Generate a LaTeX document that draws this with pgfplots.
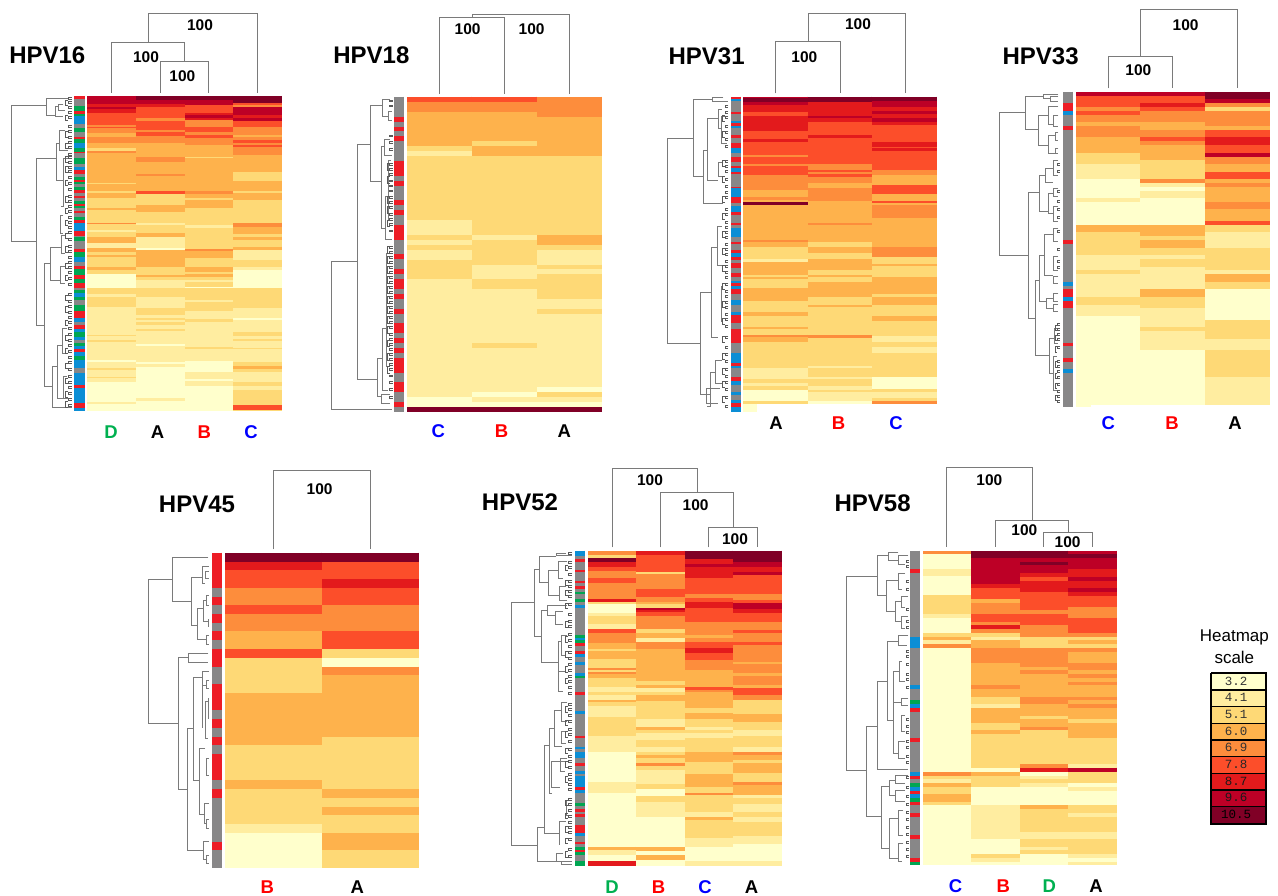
\documentclass[border=0pt]{standalone}
\usepackage{pgfplots}
\pgfplotsset{compat=1.18}
\usepackage{fontspec}
\setmainfont{Liberation Sans}
\newfontfamily\lm{Liberation Mono}
\definecolor{dgc}{HTML}{7A7A7A}
\pgfplotsset{
 dg/.style={color=dgc,line width=0.8pt,no markers,line join=miter},
 hm/.style={mesh,shader=flat corner,point meta=explicit,no markers,line cap=butt},
 colormap={hm}{rgb255=(255,255,204) rgb255=(255,237,160) rgb255=(254,217,118) rgb255=(254,178,76) rgb255=(253,141,60) rgb255=(252,78,42) rgb255=(227,26,28) rgb255=(189,0,38) rgb255=(128,0,38) rgb255=(136,136,136) rgb255=(238,28,37) rgb255=(10,143,214) rgb255=(0,166,81)}
}
\newcommand\setoff[2]{\def\ox{#1}\def\oy{#2}}
\newcommand\hcolB[3]{\addplot[hm,line width=#1pt] table[row sep=\\,x expr=#2,y expr=\thisrow{y}/3+\oy,meta=v]{y v\\#3\\};}
\newcommand\hcol[3]{\pgfmathsetmacro\lw{(#2-#1)/3}\pgfmathsetmacro\xc{(#1+#2)/6+\ox}\edef\a{\noexpand\hcolB{\lw}{\xc}}\a{#3}}
\newcommand\pl[1]{\addplot[dg] table[row sep=\\,x expr=\thisrow{x}/3+\ox,y expr=\thisrow{y}/3+\oy]{x y\\#1\\};}
\newcommand\br[5]{\pl{#3 #2\\#1 #2\\#1 #4\\#5 #4}}
\newcommand\lf[4]{\pgfplotsinvokeforeach{#4}{\addplot[color=black!65,line width=0.55pt,no markers] table[row sep=\\,x expr=\thisrow{x}/3+\ox,y expr=(\thisrow{y}+\thisrow{d}*#3)/3+\oy]{x y d\\#2 ##1 0\\#1 ##1 0\\#1 ##1 1\\#2 ##1 1\\};}}
\newcommand\txB[4]{\node[inner sep=0pt,#3] at (axis cs:#1,#2) {#4};}
\newcommand\tx[4]{\pgfmathsetmacro\tmx{#1/3+\ox}\pgfmathsetmacro\tmy{#2/3+\oy}\edef\a{\noexpand\txB{\tmx}{\tmy}}\a{#3}{#4}}
\newcommand\ttl[3]{\tx{#1}{#2}{font=\bfseries\fontsize{24}{24}\selectfont}{#3}}
\newcommand\hh[2]{\tx{#1}{#2}{font=\bfseries\fontsize{15.5}{15.5}\selectfont}{100}}
\newcommand\lb[4]{\tx{#1}{#2}{font=\bfseries\fontsize{18.5}{18.5}\selectfont,text=#3}{#4}}
\definecolor{lg}{HTML}{00B050}\definecolor{lr}{HTML}{FF0000}\definecolor{lbl}{HTML}{0000FF}
\begin{document}
\begin{tikzpicture}
\path[use as bounding box] (0,0) rectangle (1278pt,896pt);
\begin{axis}[anchor=south west,at={(0,0)},x=1pt,y=1pt,xmin=0,xmax=1278,ymin=0,ymax=896,y dir=reverse,axis lines=none,clip=false,colormap name=hm,point meta min=1,point meta max=13]
% ---------- HPV16
\setoff{0}{0}
\hcol{262}{408}{288 8\\312 7\\320 8\\327 7\\338 6\\375 5\\380 6\\384 5\\400 4\\410 5\\430 4\\445 3\\452 5\\460 4\\548 3\\552 4\\572 3\\578 4\\595 3\\625 4\\630 3\\668 5\\672 3\\690 2\\695 3\\710 4\\730 2\\745 4\\755 3\\765 4\\770 3\\800 4\\810 3\\823 1\\865 3\\882 2\\892 3\\920 2\\1005 3\\1009 2\\1020 3\\1025 2\\1080 1\\1085 2\\1105 3\\1110 2\\1130 3\\1135 2\\1145 1\\1205 2\\1213 1\\1233 1}
\hcol{408}{554}{288 9\\300 8\\313 7\\320 6\\355 5\\362 6\\390 5\\395 6\\408 5\\430 4\\470 5\\485 4\\523 5\\527 4\\572 6\\582 3\\615 4\\635 3\\668 2\\675 3\\700 4\\710 2\\745 1\\750 4\\800 3\\825 4\\830 3\\840 2\\865 3\\890 2\\925 3\\945 2\\953 3\\960 2\\965 3\\975 2\\987 3\\993 2\\1033 1\\1037 2\\1087 1\\1093 2\\1100 1\\1195 2\\1203 1\\1233 1}
\hcol{554}{700}{288 9\\300 8\\315 6\\338 7\\345 8\\355 7\\360 5\\380 6\\395 5\\405 6\\415 5\\435 4\\470 3\\475 4\\572 5\\582 4\\595 3\\600 4\\625 3\\675 2\\683 3\\747 5\\753 4\\775 3\\800 4\\815 3\\823 4\\830 3\\840 2\\847 3\\860 1\\865 3\\900 2\\905 3\\933 2\\957 3\\965 2\\1040 3\\1047 2\\1083 1\\1117 2\\1137 1\\1143 2\\1157 1\\1233 1}
\hcol{700}{845}{288 9\\308 6\\315 5\\322 8\\345 7\\355 8\\362 6\\380 5\\405 4\\410 5\\420 6\\428 5\\435 6\\442 5\\465 4\\515 3\\543 4\\572 3\\580 4\\600 3\\668 5\\680 4\\703 3\\710 4\\720 3\\740 4\\750 2\\780 3\\800 2\\810 1\\865 3\\925 2\\955 1\\960 2\\995 3\\1007 2\\1017 3\\1022 2\\1043 3\\1047 2\\1085 3\\1097 4\\1107 3\\1115 2\\1145 3\\1157 2\\1170 3\\1215 6\\1230 3\\1233 3}
\hcol{222}{255}{288 11\\298 10\\318 13\\333 11\\342 13\\348 12\\372 10\\385 13\\395 10\\410 11\\418 13\\430 12\\445 13\\455 11\\460 10\\475 13\\492 10\\500 12\\510 11\\522 10\\530 13\\540 11\\545 13\\552 10\\560 13\\570 11\\580 10\\588 11\\595 10\\603 13\\612 11\\618 13\\625 10\\632 11\\640 10\\650 13\\660 11\\670 12\\693 11\\707 10\\710 13\\723 10\\747 11\\757 13\\770 12\\785 10\\797 11\\807 13\\825 11\\837 13\\850 11\\863 10\\870 13\\880 12\\890 13\\900 10\\915 13\\933 11\\955 12\\965 10\\975 11\\987 12\\997 13\\1010 12\\1020 10\\1030 13\\1037 12\\1047 11\\1055 12\\1067 13\\1080 12\\1105 10\\1120 12\\1155 11\\1165 12\\1210 11\\1223 12\\1233 12}
\pl{445 128\\445 40\\772 40\\772 278}\pl{335 278\\335 128\\553 128\\553 185}\pl{481 278\\481 185\\626 185\\626 278}
\hh{600}{75}\hh{438}{170}\hh{547}{227}
\ttl{142}{167}{HPV16}
\lb{333}{1297}{lg}{D}\lb{473}{1297}{black}{A}\lb{613}{1297}{lr}{B}\lb{753}{1297}{lbl}{C}
\br{35}{315}{139}{723}{110}\br{139}{295}{205}{345}{165}\br{165}{320}{175}{350}{190}\br{175}{312}{190}{330}{195}
\br{110}{475}{170}{975}{132}\br{170}{430}{178}{540}{190}\br{178}{390}{195}{450}{205}\br{190}{475}{205}{620}{182}\br{182}{645}{190}{700}{190}
\br{132}{790}{152}{1160}{158}\br{152}{743}{185}{840}{180}\br{185}{705}{195}{760}{195}\br{180}{800}{195}{850}{195}
\br{158}{1100}{172}{1223}{215}\br{172}{1037}{188}{1195}{190}\br{188}{985}{200}{1060}{205}\br{190}{1130}{200}{1195}{205}
\lf{196}{204}{16}{300,345,395,430,470,500,540,590,625,660,700,740,790,825,885,920,960,1005,1045,1090,1135,1175,1205}
\lf{206}{216}{6}{292,305,320,335,350,375,392,408,425,440,460,470,485,498,512,530,548,565,585,600,615,630,650,665,680,695,715,735,750,768,783,800,815,832,850,880,900,915,935,950,965,982,1000,1018,1032,1050,1070,1085,1105,1125,1145,1160,1178,1195,1212}
% ---------- HPV18
\setoff{325}{0}
\hcol{247}{441}{290 6\\306 5\\335 4\\438 3\\453 2\\468 3\\660 2\\704 3\\720 2\\735 3\\750 2\\780 3\\837 2\\892 2\\1191 1\\1221 9\\1237 9}
\hcol{441}{635}{290 6\\306 5\\335 4\\423 3\\438 4\\468 3\\704 2\\720 3\\794 2\\837 3\\867 2\\1030 3\\1045 2\\1177 1\\1191 2\\1206 1\\1221 9\\1237 9}
\hcol{635}{830}{290 5\\350 4\\468 3\\704 4\\735 3\\750 2\\794 3\\808 2\\823 3\\897 2\\926 3\\941 2\\1162 1\\1177 3\\1191 2\\1206 1\\1221 9\\1237 9}
\hcol{207}{238}{290 10\\350 11\\365 10\\380 11\\394 10\\409 11\\423 10\\483 11\\527 10\\542 11\\557 10\\601 11\\616 10\\630 11\\645 10\\675 11\\719 10\\763 11\\778 10\\807 11\\822 10\\837 11\\866 10\\881 11\\896 10\\926 11\\941 10\\970 11\\1000 10\\1015 11\\1030 10\\1045 11\\1059 10\\1074 11\\1118 10\\1147 11\\1177 10\\1206 11\\1221 10\\1237 10}
\pl{344 282\\344 52\\539 52\\539 282}\pl{441 52\\441 42\\732 42\\732 282}
\hh{428}{87}\hh{620}{87}
\ttl{139}{167}{HPV18}
\lb{340}{1293}{lbl}{C}\lb{530}{1293}{lr}{B}\lb{718}{1293}{black}{A}
\br{18}{785}{97}{1228}{200}\br{97}{432}{137}{1137}{158}\br{137}{317}{172}{545}{168}\br{172}{297}{195}{350}{190}\br{190}{335}{200}{360}{200}
\br{168}{440}{178}{685}{182}\br{178}{418}{195}{465}{200}\br{182}{590}{190}{718}{200}\br{190}{480}{198}{660}{196}
\br{158}{1075}{172}{1190}{170}\br{172}{985}{185}{1170}{190}\br{185}{760}{190}{1100}{190}\br{170}{1183}{195}{1210}{195}
\lf{188}{194}{20}{490,530,590,620,660,740,770,800,830,860,890,920,950,980,1020,1060,1100}
\lf{194}{203}{5}{300,315,405,425,445,490,505,520,540,555,570,590,605,620,640,655,670,690,740,755,770,785,800,815,830,845,860,875,890,905,920,935,950,965,980,1000,1015,1030,1045,1060,1075,1090,1105,1125,1145,1165,1190}
% ---------- HPV31
\setoff{660}{0}
\hcol{250}{443}{290 8\\295 9\\305 8\\316 7\\335 6\\347 7\\392 6\\418 7\\426 6\\465 5\\472 6\\492 5\\498 6\\524 5\\570 4\\590 5\\600 4\\607 9\\616 4\\720 5\\727 4\\740 3\\778 2\\785 4\\825 3\\830 4\\837 3\\865 4\\903 3\\935 4\\948 3\\980 4\\987 3\\1005 5\\1012 4\\1025 3\\1105 2\\1137 3\\1150 2\\1158 3\\1170 1\\1203 3\\1213 3}
\hcol{443}{637}{290 9\\305 7\\347 8\\355 7\\367 6\\406 7\\413 6\\492 5\\510 6\\517 5\\523 6\\530 5\\550 4\\565 5\\603 4\\668 5\\675 4\\727 3\\740 4\\760 3\\778 4\\810 3\\825 4\\832 3\\845 4\\890 3\\915 4\\922 3\\1005 5\\1015 3\\1098 2\\1105 3\\1132 2\\1137 3\\1157 2\\1170 3\\1175 2\\1203 1\\1213 1}
\hcol{637}{832}{290 9\\303 8\\320 7\\333 8\\342 7\\355 8\\365 7\\375 6\\427 7\\440 6\\445 7\\452 6\\510 5\\525 4\\555 6\\583 4\\603 6\\610 4\\615 5\\653 4\\740 5\\772 3\\792 4\\798 3\\830 4\\882 3\\890 4\\915 3\\948 4\\962 3\\1007 2\\1025 3\\1040 2\\1058 3\\1132 1\\1168 3\\1177 2\\1195 3\\1202 5\\1212 5}
\hcol{250}{292}{1213 1\\1235 1}
\hcol{212}{243}{290 11\\297 12\\303 10\\335 11\\342 10\\362 12\\370 11\\378 12\\385 10\\405 11\\413 10\\428 11\\445 12\\460 10\\472 11\\485 10\\497 11\\505 12\\515 11\\523 10\\560 11\\565 12\\590 11\\610 10\\618 12\\635 11\\645 10\\668 11\\675 10\\685 12\\710 10\\725 11\\732 10\\750 11\\760 12\\772 11\\780 10\\790 11\\805 10\\818 11\\830 10\\842 12\\850 11\\857 12\\867 11\\882 10\\900 12\\915 10\\935 12\\945 11\\968 10\\988 11\\1028 10\\1058 12\\1090 11\\1098 12\\1105 10\\1130 11\\1142 12\\1155 10\\1175 12\\1185 10\\1200 12\\1210 11\\1222 12\\1235 12}
\pl{347 280\\347 123\\541 123\\541 280}\pl{444 123\\444 41\\736 41\\736 280}
\hh{433}{170}\hh{594}{74}
\ttl{140}{170}{HPV31}
\lb{348}{1270}{black}{A}\lb{536}{1270}{lr}{B}\lb{708}{1270}{lbl}{C}
\br{22}{415}{100}{1030}{122}\br{100}{298}{157}{530}{130}\br{157}{293}{190}{305}{205}\br{130}{450}{143}{610}{190}\br{143}{355}{175}{540}{175}\br{175}{328}{185}{385}{185}\br{175}{488}{190}{530}{190}\br{185}{350}{200}{430}{200}
\br{122}{878}{155}{1182}{150}\br{155}{742}{172}{1012}{175}\br{172}{680}{185}{795}{185}\br{185}{860}{190}{965}{190}\br{150}{1118}{165}{1220}{140}\br{165}{1080}{185}{1150}{185}\br{140}{1165}{180}{1210}{175}
\lf{187}{195}{18}{345,395,480,530,590,640,695,745,795,850,905,955,1010,1060,1105,1145,1190}
\lf{196}{205}{6}{315,335,350,375,395,415,435,480,495,510,535,555,575,590,625,640,665,680,695,710,730,745,760,780,795,815,830,850,870,885,905,920,940,955,975,1010,1040,1060,1080,1105,1125,1145,1165,1190,1215}
% ---------- HPV33
\setoff{995}{0}
\hcol{242}{435}{275 8\\287 6\\322 5\\333 6\\345 5\\367 4\\378 5\\412 4\\458 3\\492 2\\537 1\\595 2\\607 1\\675 4\\697 3\\765 2\\810 3\\822 2\\892 3\\914 2\\948 1\\1215 1}
\hcol{435}{630}{275 8\\287 6\\310 7\\322 6\\333 5\\367 4\\390 5\\412 6\\424 5\\435 4\\480 3\\537 5\\549 2\\560 1\\572 2\\595 1\\675 4\\708 3\\720 4\\743 3\\765 2\\778 3\\800 2\\868 4\\892 3\\925 2\\982 3\\994 2\\1050 1\\1215 1}
\hcol{630}{825}{275 9\\298 8\\310 5\\321 3\\332 5\\378 4\\390 6\\412 7\\435 6\\458 8\\470 5\\492 4\\515 6\\537 4\\549 5\\560 4\\606 5\\628 4\\663 6\\675 3\\697 2\\743 3\\810 2\\822 4\\845 3\\868 1\\960 3\\1017 2\\1050 3\\1130 2\\1215 2}
\hcol{242}{288}{1215 1\\1222 1}
\hcol{203}{234}{275 10\\310 11\\333 12\\345 10\\378 11\\390 10\\720 11\\731 10\\845 12\\857 10\\868 11\\892 12\\903 11\\925 10\\1028 11\\1039 10\\1074 11\\1085 10\\1108 12\\1119 10\\1222 10}
\pl{339 265\\339 168\\532 168\\532 265}\pl{436 168\\436 28\\727 28\\727 265}
\hh{430}{210}\hh{572}{75}
\ttl{137}{170}{HPV33}
\lb{340}{1270}{lbl}{C}\lb{531}{1270}{lr}{B}\lb{720}{1270}{black}{A}
\br{13}{338}{90}{767}{100}\br{90}{288}{145}{388}{130}\br{145}{282}{190}{295}{165}\br{165}{290}{190}{303}{190}\br{130}{345}{160}{435}{160}\br{160}{320}{190}{372}{175}\br{175}{345}{190}{380}{190}\br{160}{405}{180}{460}{180}\br{180}{398}{190}{420}{190}\br{180}{445}{190}{460}{190}
\br{100}{578}{133}{955}{122}\br{133}{525}{150}{635}{160}\br{150}{505}{175}{548}{175}\br{175}{480}{190}{525}{190}\br{160}{580}{175}{640}{175}\br{175}{565}{190}{590}{190}\br{175}{620}{190}{665}{190}
\br{122}{842}{132}{1065}{163}\br{132}{765}{148}{905}{155}\br{148}{703}{175}{825}{175}\br{175}{685}{190}{725}{190}\br{175}{770}{190}{810}{190}\br{175}{830}{190}{850}{190}\br{155}{895}{175}{925}{175}\br{175}{880}{190}{905}{190}\br{175}{912}{190}{935}{190}
\br{163}{1015}{178}{1120}{175}\br{178}{985}{188}{1030}{188}\br{175}{1070}{185}{1170}{185}
\lf{180}{187}{16}{975,1005,1040,1085,1120,1150,1185}
\lf{187}{195}{6}{490,510,570,600,625,650,690,745,780,800,970,985,1000,1015,1040,1080,1095,1110,1130,1150,1170,1185,1200}
% ---------- HPV45
\setoff{145}{465}
\hcol{240}{530}{263 9\\290 7\\316 6\\369 5\\421 6\\447 5\\499 4\\552 6\\578 3\\684 4\\841 3\\946 4\\972 3\\1077 2\\1104 1\\1208 1}
\hcol{530}{822}{263 9\\290 6\\342 7\\369 6\\421 5\\499 6\\552 3\\578 1\\605 5\\631 4\\815 3\\972 4\\999 3\\1025 4\\1051 3\\1104 4\\1156 3\\1208 3}
\hcol{200}{232}{263 11\\369 10\\395 11\\421 10\\447 11\\473 10\\499 11\\526 10\\552 11\\605 10\\657 11\\736 10\\762 11\\789 10\\815 11\\841 10\\867 11\\946 10\\972 11\\999 10\\1130 11\\1156 10\\1208 10}
\pl{385 253\\385 15\\677 15\\677 253}
\hh{524}{73}
\ttl{156}{117}{HPV45}
\lb{367}{1265}{lr}{B}\lb{637}{1265}{black}{A}
\br{10}{343}{82}{776}{100}\br{82}{276}{190}{410}{140}\br{140}{336}{172}{480}{158}\br{172}{305}{192}{355}{180}\br{180}{318}{192}{340}{192}\br{158}{430}{175}{522}{183}\br{175}{405}{183}{470}{190}\br{183}{392}{192}{420}{192}\br{190}{462}{192}{485}{192}\br{183}{512}{192}{538}{192}
\br{100}{578}{130}{972}{128}\br{130}{565}{190}{592}{190}\br{128}{790}{145}{1156}{175}\br{145}{637}{172}{945}{163}\br{172}{618}{192}{660}{185}\br{185}{645}{192}{670}{192}\br{172}{660}{182}{790}{172}
\br{163}{850}{180}{1048}{178}\br{180}{710}{190}{820}{190}\br{190}{700}{192}{760}{192}\br{185}{880}{192}{930}{192}\br{178}{1015}{192}{1075}{185}\br{185}{1062}{192}{1090}{192}\br{175}{1128}{192}{1182}{183}\br{183}{1170}{192}{1195}{192}
% ---------- HPV52
\setoff{480}{465}
\hcol{323}{468}{257 5\\270 3\\280 9\\292 7\\305 6\\318 5\\340 6\\355 5\\403 7\\412 3\\418 1\\445 2\\452 3\\478 2\\492 6\\503 5\\533 4\\552 3\\558 4\\583 3\\608 5\\614 3\\622 5\\628 4\\640 3\\665 2\\680 3\\690 2\\705 4\\712 3\\722 2\\755 3\\812 2\\860 1\\950 2\\983 1\\1146 4\\1156 2\\1170 1\\1187 7\\1203 7}
\hcol{468}{614}{257 7\\270 6\\320 3\\328 5\\372 6\\396 5\\410 4\\418 3\\428 8\\435 7\\440 6\\452 5\\492 3\\503 4\\518 2\\530 5\\552 4\\648 3\\660 4\\668 2\\682 3\\690 4\\708 3\\762 2\\785 4\\795 3\\805 2\\825 3\\845 2\\862 3\\870 4\\880 3\\893 5\\903 3\\916 2\\958 3\\972 1\\992 3\\1012 2\\1056 1\\1146 4\\1158 1\\1170 4\\1185 1\\1203 1}
\hcol{614}{760}{257 9\\282 7\\296 8\\305 7\\338 6\\388 5\\400 6\\410 7\\430 6\\470 5\\510 4\\520 5\\530 6\\550 7\\565 6\\585 5\\615 4\\665 6\\675 5\\682 4\\730 3\\745 4\\762 3\\785 2\\795 3\\805 2\\820 3\\860 4\\892 3\\928 4\\965 3\\983 5\\990 3\\1040 2\\1056 4\\1065 3\\1120 2\\1146 1\\1187 2\\1203 2}
\hcol{760}{906}{257 9\\290 8\\305 7\\322 8\\330 6\\388 5\\405 6\\415 8\\432 7\\445 6\\470 5\\495 6\\503 5\\530 6\\540 5\\590 4\\598 5\\624 4\\632 5\\660 4\\668 6\\690 5\\705 3\\748 4\\770 3\\795 2\\812 3\\845 2\\860 5\\870 4\\885 3\\893 4\\925 3\\950 5\\960 4\\990 2\\1000 3\\1016 2\\1040 3\\1056 2\\1072 3\\1114 2\\1138 1\\1187 2\\1203 2}
\hcol{284}{314}{257 12\\273 10\\282 11\\290 10\\315 11\\322 10\\347 11\\355 10\\363 11\\372 10\\380 13\\388 10\\403 13\\412 10\\420 12\\430 10\\510 13\\518 12\\526 13\\534 11\\543 10\\558 11\\566 12\\575 10\\592 12\\600 10\\625 12\\633 13\\640 10\\681 11\\690 10\\738 12\\747 10\\812 11\\820 10\\845 12\\853 10\\861 12\\878 10\\893 11\\902 10\\918 12\\926 10\\934 12\\966 11\\975 12\\983 10\\1014 13\\1023 10\\1032 11\\1040 10\\1048 11\\1056 10\\1080 11\\1105 12\\1114 10\\1130 11\\1138 10\\1146 13\\1154 11\\1162 13\\1170 10\\1187 13\\1203 13}
\pl{396 247\\396 10\\651 10\\651 83}\pl{541 247\\541 83\\760 83\\760 187}\pl{686 247\\686 187\\833 187\\833 247}
\hh{510}{46}\hh{647}{120}\hh{765}{223}
\ttl{120}{113}{HPV52}
\lb{396}{1265}{lg}{D}\lb{536}{1265}{lr}{B}\lb{675}{1265}{lbl}{C}\lb{815}{1265}{black}{A}
\br{95}{412}{162}{1140}{173}\br{162}{312}{178}{515}{185}\br{178}{275}{228}{352}{205}\br{228}{265}{258}{272}{275}\br{205}{315}{235}{390}{238}\br{235}{290}{262}{340}{250}\br{238}{365}{258}{405}{260}
\br{185}{435}{203}{592}{235}\br{203}{422}{260}{450}{225}\br{225}{440}{248}{478}{248}\br{235}{530}{245}{652}{235}\br{245}{510}{262}{570}{258}\br{235}{620}{258}{680}{248}
\br{173}{1088}{193}{1190}{230}\br{193}{840}{208}{1105}{238}\br{208}{790}{222}{985}{215}\br{222}{735}{245}{845}{245}\br{245}{712}{262}{770}{262}\br{245}{800}{262}{835}{258}\br{215}{890}{255}{968}{240}\br{240}{880}{262}{920}{255}\br{238}{1068}{258}{1140}{238}\br{258}{1005}{270}{1050}{270}\br{230}{1165}{250}{1190}{245}\br{245}{1190}{275}{1198}{275}
\lf{256}{264}{16}{300,345,375,415,470,515,560,605,640,725,765,800,850,890,935,1005,1045,1085,1120,1160}
\lf{265}{277}{6}{262,290,305,325,345,360,375,392,415,445,465,480,505,522,540,560,578,595,612,630,645,665,682,715,730,748,765,790,805,825,850,870,885,905,925,940,955,970,1000,1015,1032,1050,1070,1085,1100,1120,1150,1170}
% ---------- HPV58
\setoff{830}{465}
\hcol{278}{424}{257 5\\267 1\\313 2\\333 1\\390 3\\447 2\\458 1\\503 3\\515 4\\526 2\\538 5\\549 1\\920 5\\932 3\\943 2\\954 4\\965 3\\988 4\\1010 3\\1020 1\\1200 1}
\hcol{424}{570}{257 9\\278 8\\358 7\\370 6\\402 4\\414 5\\447 6\\470 5\\481 7\\492 5\\503 3\\515 2\\526 4\\549 5\\594 4\\660 5\\672 4\\695 3\\718 2\\729 4\\775 3\\796 4\\808 3\\908 1\\920 4\\932 3\\965 1\\1020 2\\1122 1\\1167 3\\1180 2\\1190 1\\1200 1}
\hcol{570}{715}{257 9\\278 8\\290 9\\300 8\\323 7\\335 6\\347 7\\380 6\\436 5\\447 6\\481 5\\515 3\\549 5\\605 4\\616 5\\628 4\\695 5\\718 4\\752 3\\763 4\\785 5\\796 3\\897 5\\908 7\\920 1\\932 2\\943 3\\954 2\\965 1\\1020 4\\1033 3\\1100 2\\1122 3\\1145 2\\1156 3\\1167 1\\1200 1}
\hcol{715}{860}{257 8\\267 9\\278 8\\312 7\\335 8\\347 7\\370 8\\380 7\\392 6\\425 5\\458 6\\503 5\\515 3\\526 4\\537 3\\549 5\\560 4\\594 5\\616 4\\628 5\\640 4\\650 5\\660 4\\695 5\\706 4\\717 5\\729 4\\763 3\\774 4\\818 3\\897 2\\908 8\\920 3\\954 1\\965 2\\977 1\\1020 3\\1044 2\\1055 3\\1100 2\\1122 3\\1167 2\\1180 1\\1190 2\\1200 2}
\hcol{240}{271}{257 10\\312 11\\323 10\\515 12\\549 10\\660 12\\672 10\\706 13\\717 12\\729 11\\740 10\\818 11\\830 10\\920 12\\932 11\\943 10\\954 13\\965 12\\977 11\\988 12\\999 13\\1010 11\\1020 10\\1044 11\\1055 10\\1111 11\\1122 10\\1178 11\\1190 13\\1200 13}
\pl{350 245\\350 8\\606 8\\606 167}\pl{497 245\\497 167\\715 167\\715 203}\pl{641 245\\641 203\\788 203\\788 245}
\hh{478}{46}\hh{583}{195}\hh{713}{232}
\ttl{128}{115}{HPV58}
\lb{377}{1262}{lbl}{C}\lb{520}{1262}{lr}{B}\lb{658}{1262}{lg}{D}\lb{798}{1262}{black}{A}
\br{50}{335}{143}{917}{110}\br{143}{272}{175}{390}{170}\br{175}{262}{205}{285}{205}\br{205}{272}{235}{298}{225}\br{170}{345}{205}{440}{195}\br{205}{325}{225}{372}{215}\br{195}{410}{215}{470}{215}\br{215}{395}{235}{428}{225}\br{215}{455}{235}{490}{225}
\br{110}{783}{143}{1055}{155}\br{143}{650}{172}{913}{235}\br{172}{530}{205}{765}{190}\br{205}{510}{235}{540}{232}\br{190}{620}{208}{712}{215}\br{208}{590}{215}{650}{225}\br{215}{700}{235}{722}{235}\br{190}{712}{215}{865}{205}\br{215}{750}{225}{800}{225}\br{205}{830}{225}{880}{225}
\br{155}{965}{178}{1150}{178}\br{178}{945}{195}{990}{195}\br{195}{930}{235}{955}{225}\br{195}{975}{225}{1010}{225}\br{178}{1060}{205}{1180}{205}\br{205}{1035}{220}{1110}{220}\br{205}{1135}{220}{1190}{215}
\lf{228}{236}{6}{285,300,345,370,430,465,485,555,570,595,625,640,665,760,780,800,825,845,870,890,935,965,990,1015,1040,1060,1085,1105,1130,1150,1170}
% ---------- Scale
\setoff{1180}{620}
\hcol{95}{255}{160 1\\210 2\\260 3\\310 4\\360 5\\410 6\\460 7\\510 8\\560 9\\610 9}
\addplot[black,line width=1.8pt,no markers] table[row sep=\\,x expr=\thisrow{x}/3+\ox,y expr=\thisrow{y}/3+\oy]{x y\\93 158\\257 158\\257 613\\93 613\\93 158\\};
\addplot[black,line width=1.1pt,no markers] table[row sep=\\,x expr=\thisrow{x}/3+\ox,y expr=\thisrow{y}/3+\oy]{x y\\93 210\\257 210\\};
\addplot[black,line width=1.1pt,no markers] table[row sep=\\,x expr=\thisrow{x}/3+\ox,y expr=\thisrow{y}/3+\oy]{x y\\93 260\\257 260\\};
\addplot[black,line width=1.1pt,no markers] table[row sep=\\,x expr=\thisrow{x}/3+\ox,y expr=\thisrow{y}/3+\oy]{x y\\93 310\\257 310\\};
\addplot[black,line width=1.1pt,no markers] table[row sep=\\,x expr=\thisrow{x}/3+\ox,y expr=\thisrow{y}/3+\oy]{x y\\93 360\\257 360\\};
\addplot[black,line width=1.1pt,no markers] table[row sep=\\,x expr=\thisrow{x}/3+\ox,y expr=\thisrow{y}/3+\oy]{x y\\93 410\\257 410\\};
\addplot[black,line width=1.1pt,no markers] table[row sep=\\,x expr=\thisrow{x}/3+\ox,y expr=\thisrow{y}/3+\oy]{x y\\93 460\\257 460\\};
\addplot[black,line width=1.1pt,no markers] table[row sep=\\,x expr=\thisrow{x}/3+\ox,y expr=\thisrow{y}/3+\oy]{x y\\93 510\\257 510\\};
\addplot[black,line width=1.1pt,no markers] table[row sep=\\,x expr=\thisrow{x}/3+\ox,y expr=\thisrow{y}/3+\oy]{x y\\93 560\\257 560\\};
\tx{163}{52}{font=\fontsize{17}{17}\selectfont}{Heatmap}
\tx{163}{112}{font=\fontsize{17}{17}\selectfont}{scale}
\tx{168}{183}{font=\lm\fontsize{12.5}{12.5}\selectfont,text=black!80}{3.2}
\tx{168}{233}{font=\lm\fontsize{12.5}{12.5}\selectfont,text=black!80}{4.1}
\tx{168}{283}{font=\lm\fontsize{12.5}{12.5}\selectfont,text=black!80}{5.1}
\tx{168}{333}{font=\lm\fontsize{12.5}{12.5}\selectfont,text=black!80}{6.0}
\tx{168}{383}{font=\lm\fontsize{12.5}{12.5}\selectfont,text=black!80}{6.9}
\tx{168}{433}{font=\lm\fontsize{12.5}{12.5}\selectfont,text=black!85}{7.8}
\tx{168}{483}{font=\lm\fontsize{12.5}{12.5}\selectfont,text=black!90}{8.7}
\tx{168}{533}{font=\lm\fontsize{12.5}{12.5}\selectfont,text=black!90}{9.6}
\tx{168}{583}{font=\lm\fontsize{12.5}{12.5}\selectfont,text=black}{10.5}
\end{axis}
\end{tikzpicture}
\end{document}
